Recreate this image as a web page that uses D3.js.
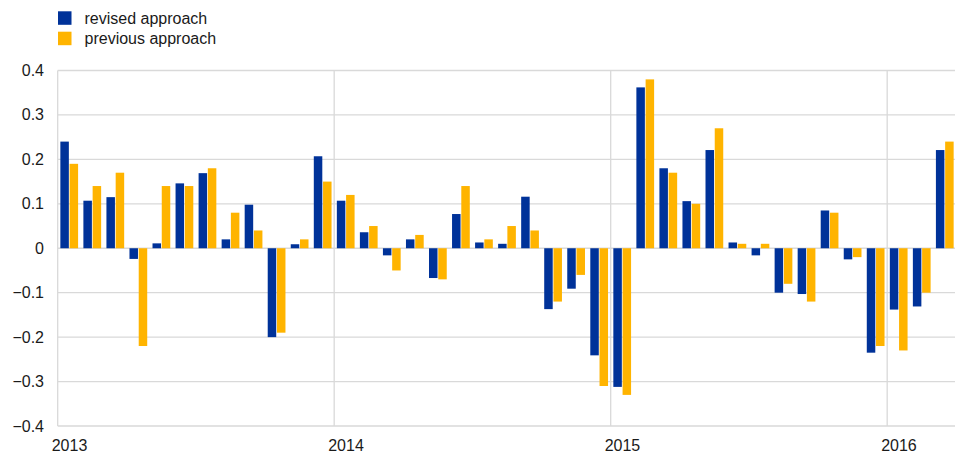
<!DOCTYPE html>
<html lang="en">
<head>
<meta charset="UTF-8"/>
<title>revised vs previous approach</title>
<style>
  body { margin: 0; background: #fff; }
  svg { display: block; font-family: "Liberation Sans", Arial, sans-serif; }
  text { font-size: 16px; fill: #1a1a1a; }
  .grid line { stroke: #d9d9d9; stroke-width: 1.3; }
</style>
</head>
<body>
<svg width="955" height="454"></svg>
<script src="https://d3js.org/d3.v7.min.js"></script>
<script>
const months = [];
for (let yr = 2013; yr <= 2016; yr++) {
  for (let m = 1; m <= 12; m++) {
    if (yr === 2016 && m > 3) break;
    months.push(yr + '-' + m);
  }
}
const series = ['revised approach', 'previous approach'];
const colors = ['#003299', '#ffb400'];
const revised = [
  0.24, 0.107, 0.115, -0.024, 0.011, 0.146, 0.169, 0.02, 0.098, -0.2, 0.009, 0.207,
  0.107, 0.036, -0.016, 0.02, -0.067, 0.077, 0.013, 0.01, 0.116, -0.137, -0.091, -0.241,
  -0.312, 0.362, 0.18, 0.106, 0.221, 0.013, -0.016, -0.1, -0.103, 0.085, -0.025, -0.235,
  -0.138, -0.131, 0.221
];
const previous = [
  0.19, 0.14, 0.17, -0.22, 0.14, 0.14, 0.18, 0.08, 0.04, -0.19, 0.02, 0.15,
  0.12, 0.05, -0.05, 0.03, -0.07, 0.14, 0.02, 0.05, 0.04, -0.12, -0.06, -0.31,
  -0.33, 0.38, 0.17, 0.1, 0.27, 0.01, 0.01, -0.08, -0.12, 0.08, -0.02, -0.22,
  -0.23, -0.1, 0.24
];
const yTicks = [-0.4, -0.3, -0.2, -0.1, 0, 0.1, 0.2, 0.3, 0.4];
const yearTicks = ['2013', '2014', '2015', '2016'];

const svg = d3.select('svg');
const plotLeft = 57.7, plotRight = 956.3, plotTop = 70.5, plotBottom = 426;

const x = d3.scaleBand()
  .domain(months)
  .range([plotLeft, plotRight])
  .paddingInner(0.23)
  .paddingOuter(0.115);
const xs = d3.scaleBand()
  .domain(series)
  .range([0, x.bandwidth()])
  .paddingInner(0.08);
const y = d3.scaleLinear().domain([-0.4, 0.4]).range([plotBottom, plotTop]);

// slot start of a month (year boundary for January)
const slot = (m) => x(m) - x.step() * x.paddingInner() / 2;

const grid = svg.append('g').attr('class', 'grid');
grid.selectAll('.h')
  .data(yTicks)
  .join('line')
  .attr('x1', plotLeft).attr('x2', 955)
  .attr('y1', (d) => y(d)).attr('y2', (d) => y(d));
grid.selectAll('.v')
  .data(yearTicks)
  .join('line')
  .attr('x1', (d) => slot(d + '-1')).attr('x2', (d) => slot(d + '-1'))
  .attr('y1', plotTop).attr('y2', plotBottom);

// y labels
svg.append('g').selectAll('text')
  .data(yTicks)
  .join('text')
  .attr('x', 44)
  .attr('y', (d) => y(d))
  .attr('text-anchor', 'end')
  .attr('dominant-baseline', 'central')
  .text((d) => d === 0 ? '0' : d3.format('.1f')(d));

// x labels
svg.append('g').selectAll('text')
  .data(yearTicks)
  .join('text')
  .attr('x', (d) => slot(d + '-1') - 6)
  .attr('y', 445)
  .attr('dominant-baseline', 'central')
  .text((d) => d);

// bars
const values = [revised, previous];
series.forEach((s, si) => {
  svg.append('g').selectAll('rect')
    .data(months)
    .join('rect')
    .attr('x', (m) => x(m) + xs(s))
    .attr('width', xs.bandwidth())
    .attr('y', (m, i) => y(Math.max(0, values[si][i])))
    .attr('height', (m, i) => Math.abs(y(values[si][i]) - y(0)))
    .attr('fill', colors[si]);
});

// legend
const legend = svg.append('g').selectAll('g')
  .data(series)
  .join('g')
  .attr('transform', (d, i) => `translate(58, ${11.3 + i * 20.4})`);
legend.append('rect')
  .attr('width', 13.5).attr('height', 13.5)
  .attr('fill', (d, i) => colors[i]);
legend.append('text')
  .attr('x', 26.5).attr('y', 7)
  .attr('dominant-baseline', 'central')
  .text((d) => d);
</script>
</body>
</html>
